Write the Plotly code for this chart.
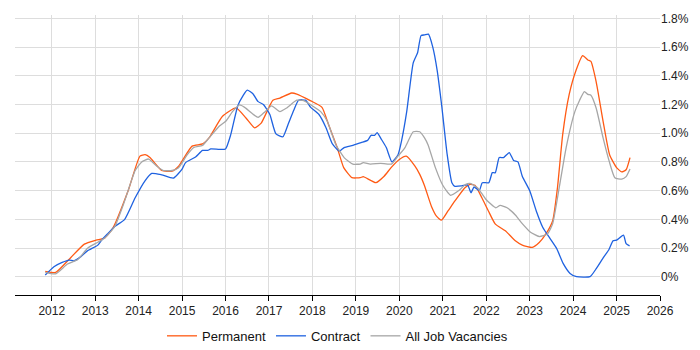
import plotly.graph_objects as go

# Decimal-year positions and percentage values
perm_x = [2011.85, 2012.09, 2012.44, 2012.75, 2013.02, 2013.22, 2013.41, 2013.76, 2014.03, 2014.15,
          2014.26, 2014.53, 2014.77, 2014.92, 2015.23, 2015.47, 2015.62, 2015.93, 2016.24, 2016.47,
          2016.67, 2016.82, 2017.09, 2017.25, 2017.52, 2017.64, 2017.95, 2018.22, 2018.37, 2018.57,
          2018.72, 2018.91, 2019.10, 2019.17, 2019.46, 2019.65, 2019.81, 2020.00, 2020.16, 2020.36,
          2020.47, 2020.58, 2020.74, 2020.86, 2020.97, 2021.12, 2021.28, 2021.51, 2021.63, 2021.74, 2021.90,
          2022.05, 2022.21, 2022.44, 2022.67, 2022.83, 2023.06, 2023.22, 2023.37, 2023.53, 2023.64,
          2023.76, 2023.91, 2024.07, 2024.22, 2024.34, 2024.41, 2024.53, 2024.69, 2024.84, 2025.00,
          2025.12, 2025.22, 2025.31]
perm_y = [0.037, 0.030, 0.134, 0.227, 0.255, 0.270, 0.340, 0.600, 0.840, 0.850,
          0.830, 0.740, 0.736, 0.770, 0.910, 0.925, 0.967, 1.118, 1.176, 1.106,
          1.037, 1.070, 1.230, 1.245, 1.280, 1.273, 1.227, 1.180, 1.060, 0.900,
          0.760, 0.690, 0.690, 0.697, 0.655, 0.700, 0.760, 0.817, 0.840, 0.770,
          0.713, 0.634, 0.490, 0.420, 0.394, 0.458, 0.528, 0.620, 0.644, 0.637, 0.550,
          0.458, 0.366, 0.320, 0.250, 0.220, 0.204, 0.238, 0.296, 0.390, 0.620,
          0.990, 1.270, 1.440, 1.540, 1.510, 1.500, 1.360, 1.083, 0.850, 0.760,
          0.730, 0.745, 0.830]

contract_x = [2011.85, 2012.05, 2012.24, 2012.40, 2012.51, 2012.67, 2012.82, 2013.06, 2013.15, 2013.29,
              2013.45, 2013.68, 2013.92, 2014.15, 2014.30, 2014.53, 2014.80, 2015.00, 2015.08, 2015.31,
              2015.47, 2015.59, 2015.66, 2015.86, 2016.00, 2016.12, 2016.28, 2016.40, 2016.50, 2016.63,
              2016.75, 2016.87, 2017.02, 2017.16, 2017.32, 2017.45, 2017.57, 2017.68, 2017.84, 2017.96,
              2018.15, 2018.31, 2018.46, 2018.62, 2018.73, 2018.93, 2019.12, 2019.27, 2019.35, 2019.43,
              2019.49, 2019.59, 2019.70, 2019.83, 2019.97, 2020.05, 2020.17, 2020.32, 2020.42, 2020.50,
              2020.58, 2020.67, 2020.77, 2020.87, 2020.98, 2021.10, 2021.21, 2021.28, 2021.44, 2021.57,
              2021.65, 2021.72, 2021.84, 2021.91, 2022.06, 2022.14, 2022.21, 2022.30, 2022.40, 2022.53,
              2022.63, 2022.73, 2022.83, 2023.00, 2023.15, 2023.30, 2023.46, 2023.62, 2023.77, 2023.93,
              2024.08, 2024.39, 2024.54, 2024.70, 2024.82, 2024.92, 2025.00, 2025.16, 2025.22, 2025.30]
contract_y = [0.012, 0.070, 0.100, 0.116, 0.110, 0.140, 0.180, 0.220, 0.255, 0.300,
              0.350, 0.400, 0.550, 0.670, 0.720, 0.710, 0.687, 0.750, 0.795, 0.834,
              0.880, 0.880, 0.890, 0.887, 0.890, 0.990, 1.190, 1.260, 1.300, 1.275,
              1.220, 1.200, 1.130, 0.995, 0.975, 1.070, 1.160, 1.230, 1.230, 1.180,
              1.130, 1.040, 0.925, 0.875, 0.900, 0.915, 0.935, 0.950, 0.985, 0.985,
              1.003, 0.956, 0.900, 0.800, 0.850, 0.945, 1.150, 1.490, 1.560, 1.680,
              1.685, 1.690, 1.600, 1.440, 1.180, 0.855, 0.655, 0.630, 0.633, 0.640,
              0.585, 0.625, 0.600, 0.655, 0.655, 0.725, 0.725, 0.830, 0.830, 0.865,
              0.810, 0.800, 0.700, 0.600, 0.460, 0.345, 0.270, 0.197, 0.093, 0.023,
              0.000, 0.000, 0.060, 0.135, 0.186, 0.250, 0.255, 0.290, 0.230, 0.215]

all_x = [2011.85, 2012.09, 2012.36, 2012.60, 2012.83, 2013.06, 2013.22, 2013.45, 2013.68, 2013.92,
         2014.07, 2014.23, 2014.42, 2014.57, 2014.77, 2014.92, 2015.12, 2015.27, 2015.47, 2015.62,
         2015.86, 2016.01, 2016.16, 2016.32, 2016.44, 2016.60, 2016.75, 2016.91, 2017.06, 2017.25,
         2017.41, 2017.64, 2017.80, 2018.00, 2018.19, 2018.34, 2018.54, 2018.73, 2018.93, 2019.10,
         2019.17, 2019.33, 2019.57, 2019.82, 2019.97, 2020.13, 2020.32, 2020.47, 2020.58, 2020.66,
         2020.83, 2021.00, 2021.18, 2021.37, 2021.53, 2021.63, 2021.80, 2021.99, 2022.22, 2022.32,
         2022.48, 2022.67, 2022.83, 2023.02, 2023.22, 2023.41, 2023.53, 2023.68, 2023.84, 2024.04,
         2024.15, 2024.26, 2024.34, 2024.41, 2024.53, 2024.69, 2024.83, 2024.96, 2025.12, 2025.22,
         2025.31]
all_y = [0.030, 0.020, 0.088, 0.120, 0.200, 0.240, 0.270, 0.350, 0.530, 0.740,
         0.800, 0.820, 0.770, 0.740, 0.740, 0.760, 0.850, 0.900, 0.915, 0.967,
         1.050, 1.085, 1.150, 1.197, 1.180, 1.140, 1.110, 1.150, 1.190, 1.150,
         1.176, 1.230, 1.227, 1.190, 1.150, 1.085, 0.920, 0.830, 0.785, 0.785,
         0.795, 0.785, 0.790, 0.785, 0.840, 0.900, 1.010, 1.010, 0.967, 0.920,
         0.760, 0.637, 0.567, 0.600, 0.644, 0.650, 0.620, 0.540, 0.480, 0.497,
         0.480, 0.430, 0.370, 0.310, 0.280, 0.297, 0.370, 0.620, 0.900, 1.150,
         1.230, 1.290, 1.270, 1.265, 1.176, 0.967, 0.805, 0.690, 0.680, 0.697,
         0.750]

year_ticks = list(range(2012, 2027))
y_ticks = [0, 0.2, 0.4, 0.6, 0.8, 1.0, 1.2, 1.4, 1.6, 1.8]
y_labels = ["0%", "0.2%", "0.4%", "0.6%", "0.8%", "1.0%", "1.2%", "1.4%", "1.6%", "1.8%"]

fig = go.Figure()
fig.add_trace(go.Scatter(x=perm_x, y=perm_y, mode="lines", name="Permanent",
                         line=dict(color="#FF5A14", width=1.3, shape="spline", smoothing=0.5)))
fig.add_trace(go.Scatter(x=contract_x, y=contract_y, mode="lines", name="Contract",
                         line=dict(color="#1F62E0", width=1.3, shape="spline", smoothing=0.5)))
fig.add_trace(go.Scatter(x=all_x, y=all_y, mode="lines", name="All Job Vacancies",
                         line=dict(color="#A6A6A6", width=1.3, shape="spline", smoothing=0.5)))

# The page body keeps the browser's default 8px margin, so the figure is sized
# and padded to land in the same place as the reference inside the 700x350 window.
fig.update_layout(
    width=692, height=342,
    margin=dict(l=7, r=40, t=7, b=55, autoexpand=False),
    paper_bgcolor="white", plot_bgcolor="white",
    font=dict(family="Liberation Sans, Arial, sans-serif", size=12, color="#222222"),
    showlegend=True,
    legend=dict(orientation="h", x=0.5, xanchor="center", y=-0.146, yanchor="middle",
                font=dict(size=13, color="#111111"), itemwidth=30),
    hovermode=False,
)
fig.update_xaxes(range=[2011.154, 2026.0], tickmode="array", tickvals=year_ticks,
                 ticktext=[str(y) for y in year_ticks], automargin=False,
                 showgrid=True, gridcolor="#DDDDDD", gridwidth=1,
                 showline=True, linecolor="#000000", linewidth=1,
                 ticks="outside", ticklen=5, tickcolor="#000000", zeroline=False,
                 tickfont=dict(size=12, color="#222222"))
fig.update_yaxes(range=[-0.1275, 1.8235], side="right", tickmode="array",
                 tickvals=y_ticks, ticktext=y_labels, automargin=False,
                 showgrid=True, gridcolor="#DDDDDD", gridwidth=1,
                 showline=False, zeroline=False, ticks="",
                 tickfont=dict(size=12, color="#222222"))

fig.write_html("out.html")
